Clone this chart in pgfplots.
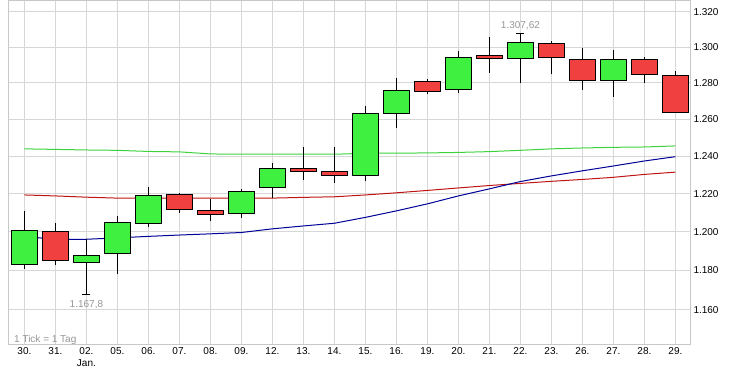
\documentclass[border=0pt]{standalone}
\usepackage{fontspec}
\setmainfont{Liberation Sans}
\usepackage{pgfplots}
\pgfplotsset{compat=1.18}
\definecolor{cgreen}{RGB}{64,240,64}
\definecolor{cred}{RGB}{240,64,64}
\definecolor{magreen}{RGB}{60,210,60}
\definecolor{mared}{RGB}{190,20,20}
\definecolor{mablue}{RGB}{0,0,150}
\definecolor{labgray}{RGB}{150,150,150}
\definecolor{gridgray}{RGB}{215,215,215}
\definecolor{framegray}{RGB}{200,200,200}
% #1 position, #2 colour, #3 low, #4 box bottom, #5 box top, #6 high
\newcommand{\candle}[6]{%
  \pgfmathsetmacro{\cxl}{#1-0.42}%
  \pgfmathsetmacro{\cxr}{#1+0.42}%
  \addplot[black, line width=1bp, no marks] coordinates {(#1,#3) (#1,#6)};
  \addplot[draw=black, line width=1bp, fill=#2, no marks]
    coordinates {(\cxl,#4) (\cxr,#4) (\cxr,#5) (\cxl,#5) (\cxl,#4)};
}
\begin{document}
\begin{tikzpicture}
\begin{axis}[
  scale only axis, width=682bp, height=343bp,
  at={(0,0)}, anchor=south west,
  % logarithmic price scale
  y coord trafo/.code={\pgfmathparse{ln(#1)-7}},
  y coord inv trafo/.code={\pgfmathparse{exp(#1+7)}},
  xmin=-0.53, xmax=21.47, ymin=1143.0, ymax=1326.3,
  xtick={0,1,...,21},
  xticklabels={30.,31.,{02.\\Jan.},05.,06.,07.,08.,09.,12.,13.,14.,15.,16.,19.,20.,21.,22.,23.,26.,27.,28.,29.},
  ytick={1160,1180,1200,1220,1240,1260,1280,1300,1320},
  yticklabels={1.160,1.180,1.200,1.220,1.240,1.260,1.280,1.300,1.320},
  yticklabel pos=right,
  major tick length=0pt,
  grid=major, major grid style={draw=gridgray, line width=1bp},
  axis line style={draw=framegray, line width=1bp},
  tick label style={font=\fontsize{10bp}{12bp}\selectfont, text=black},
  xticklabel style={align=center},
  /pgf/number format/assume math mode=true,
  clip=false,
]
% moving averages
\addplot[magreen, line width=1bp, no marks] coordinates {
(0,1243.9) (1,1243.6) (2,1243.3) (3,1243.1) (4,1242.5) (5,1242.3) (6,1241.2) (7,1241.0)
(8,1241.0) (9,1241.0) (10,1241.0) (11,1241.5) (12,1241.6) (13,1241.7) (14,1242.0) (15,1242.4)
(16,1243.1) (17,1243.9) (18,1244.4) (19,1244.7) (20,1244.9) (21,1245.5)};
\addplot[mared, line width=1bp, no marks] coordinates {
(0,1219.3) (1,1218.8) (2,1218.1) (3,1217.6) (4,1217.6) (5,1217.6) (6,1217.6) (7,1217.6)
(8,1217.6) (9,1218.0) (10,1218.3) (11,1219.3) (12,1220.4) (13,1221.7) (14,1223.0) (15,1224.3)
(16,1225.4) (17,1226.5) (18,1227.5) (19,1228.6) (20,1230.2) (21,1231.4)};
\addplot[mablue, line width=1bp, no marks] coordinates {
(0,1197.5) (1,1196.1) (2,1196.1) (3,1196.8) (4,1197.6) (5,1198.3) (6,1198.9) (7,1199.6)
(8,1201.5) (9,1203.0) (10,1204.4) (11,1207.5) (12,1210.9) (13,1214.6) (14,1218.8) (15,1222.5)
(16,1226.4) (17,1229.4) (18,1232.1) (19,1234.7) (20,1237.4) (21,1239.7)};
% candles
\candle{0}{cgreen}{1181.0}{1183.2}{1200.8}{1210.9}
\candle{1}{cred}{1183.0}{1184.9}{1200.3}{1204.7}
\candle{2}{cgreen}{1167.8}{1184.3}{1187.8}{1196.1}
\candle{3}{cgreen}{1178.2}{1188.9}{1205.0}{1208.2}
\candle{4}{cgreen}{1202.3}{1204.4}{1219.1}{1223.4}
\candle{5}{cred}{1209.7}{1211.8}{1219.7}{1220.2}
\candle{6}{cred}{1205.5}{1209.1}{1211.2}{1217.0}
\candle{7}{cgreen}{1207.4}{1209.3}{1221.3}{1222.3}
\candle{8}{cgreen}{1217.7}{1223.4}{1233.5}{1236.3}
\candle{9}{cred}{1227.4}{1231.5}{1233.5}{1244.9}
\candle{10}{cred}{1225.5}{1229.8}{1231.5}{1244.9}
\candle{11}{cgreen}{1226.6}{1229.8}{1263.3}{1267.3}
\candle{12}{cgreen}{1255.4}{1263.3}{1275.9}{1282.6}
\candle{13}{cred}{1273.7}{1275.0}{1280.9}{1282.2}
\candle{14}{cgreen}{1274.3}{1276.5}{1294.3}{1297.9}
\candle{15}{cred}{1285.4}{1293.8}{1295.4}{1305.9}
\candle{16}{cgreen}{1279.8}{1293.8}{1302.8}{1307.62}
\candle{17}{cred}{1284.8}{1294.3}{1302.2}{1303.5}
\candle{18}{cred}{1276.3}{1281.5}{1293.2}{1299.4}
\candle{19}{cgreen}{1272.4}{1281.5}{1293.2}{1298.4}
\candle{20}{cred}{1280.2}{1284.4}{1293.2}{1294.3}
\candle{21}{cred}{1263.4}{1263.4}{1284.3}{1286.7}
% extreme markers
\addplot[only marks, mark=-, mark size=4bp, black, line width=1bp,
  nodes near coords={1.167,8},
  every node near coord/.style={anchor=north, text=labgray, yshift=-2bp,
    font=\fontsize{10bp}{12bp}\selectfont}] coordinates {(2,1167.8)};
\addplot[only marks, mark=-, mark size=4bp, black, line width=1bp,
  nodes near coords={1.307,62},
  every node near coord/.style={anchor=south, text=labgray, yshift=0bp,
    font=\fontsize{10bp}{12bp}\selectfont}] coordinates {(16,1307.62)};
\node[anchor=base west, text=labgray, font=\fontsize{10bp}{12bp}\selectfont,
  inner sep=0pt] at (rel axis cs:0,0) [xshift=6bp, yshift=2bp] {1 Tick = 1 Tag};
\end{axis}
\pgfresetboundingbox
\path (-8bp,-31bp) rectangle (723bp,344bp);
\end{tikzpicture}
\end{document}
